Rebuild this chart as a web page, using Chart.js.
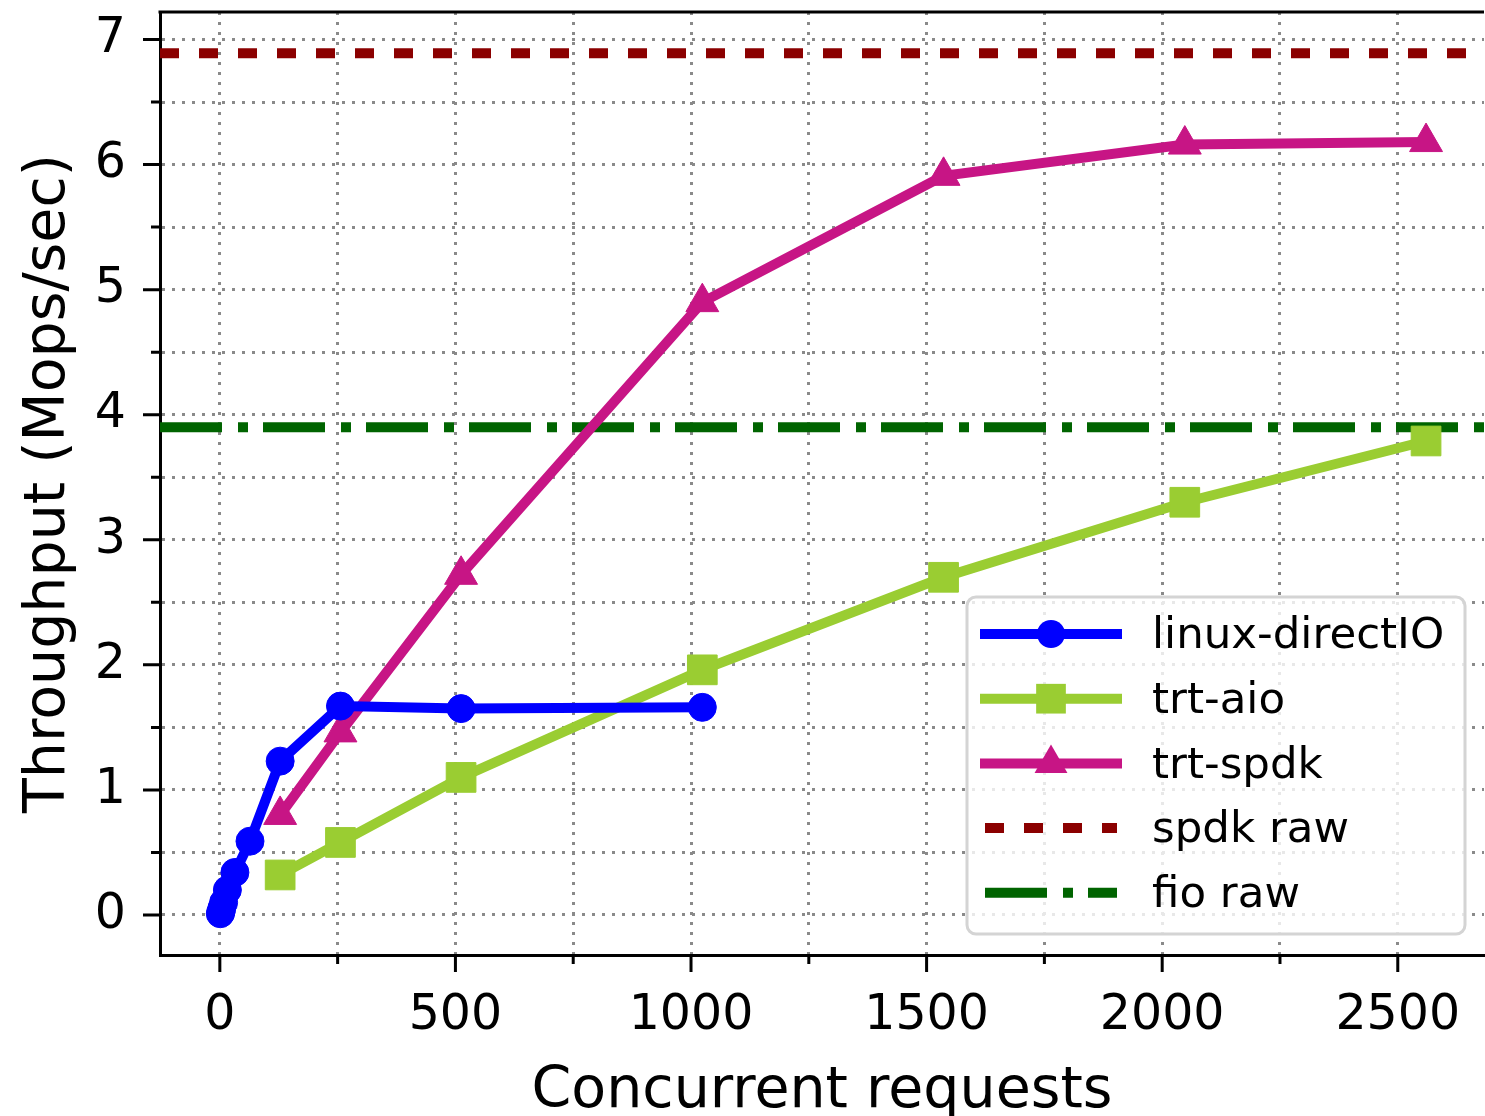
<!DOCTYPE html>
<html>
<head>
<meta charset="utf-8">
<title>Throughput vs concurrent requests</title>
<script src="https://cdn.jsdelivr.net/npm/chart.js@4.4.1/dist/chart.umd.min.js"></script>
<style>
  html, body { margin: 0; padding: 0; background: #fff; }
  #chart-main { display: block; }
</style>
</head>
<body>
<canvas id="chart-main" width="1485" height="1116"></canvas>
<script>
// data
const seriesNames = ['linux-directIO', 'trt-aio', 'trt-spdk', 'spdk raw', 'fio raw'];
const directX = [1, 2, 4, 8, 16, 32, 64, 128, 256, 512, 1024];
const directY = [0.01, 0.02, 0.05, 0.1, 0.2, 0.34, 0.59, 1.23, 1.67, 1.65, 1.66];
const trtX = [128, 256, 512, 1024, 1536, 2048, 2560];
const aioY = [0.32, 0.58, 1.1, 1.96, 2.7, 3.3, 3.79];
const spdkY = [0.8, 1.46, 2.72, 4.9, 5.91, 6.16, 6.18];
const spdkRaw = 6.89;
const fioRaw = 3.9;

// axes
const xMin = -127, xMax = 2683;
const yMin = -0.32, yMax = 7.22;
const xTicks = [0, 250, 500, 750, 1000, 1250, 1500, 1750, 2000, 2250, 2500];
const yTicks = [0, 0.5, 1, 1.5, 2, 2.5, 3, 3.5, 4, 4.5, 5, 5.5, 6, 6.5, 7];

const FONT = "'DejaVu Sans', 'Noto Sans', sans-serif";
const colors = ['#0000ff', '#9acd32', '#c71585', '#8b0000', '#006400'];
const styles = ['circle', 'rect', 'triangle'];
const radii = [14, 21, 19];
const dashes = [[], [], [], [19, 20], [62, 16, 10, 15]];

function pts(xs, ys) {
  return xs.map((x, i) => ({x: x, y: ys[i]}));
}
function flat(v) {
  return [{x: xMin, y: v}, {x: xMax, y: v}];
}

function lineSet(i, data) {
  return {
    label: seriesNames[i],
    data: data,
    borderColor: colors[i],
    backgroundColor: colors[i],
    borderWidth: 10,
    borderDash: dashes[i],
    pointStyle: styles[i] || false,
    pointRadius: radii[i] || 0,
    pointBorderWidth: 1,
    pointBorderColor: colors[i],
    pointBackgroundColor: colors[i],
    tension: 0,
    fill: false
  };
}

// no extra room for edge labels, the plot box is pinned
function noPad(s) {
  s.paddingTop = 0;
  s.paddingBottom = 0;
  s.paddingLeft = 0;
  s.paddingRight = 0;
}

// legend box in the lower right of the plot
const boxLegend = {
  id: 'boxLegend',
  afterDatasetsDraw(chart) {
    const ctx = chart.ctx;
    const a = chart.chartArea;
    const w = 498, h = 337;
    const left = a.right - 19 - w;
    const top = a.bottom - 21 - h;
    ctx.save();
    ctx.beginPath();
    ctx.roundRect(left, top, w, h, 9);
    ctx.fillStyle = 'rgba(255,255,255,0.8)';
    ctx.fill();
    ctx.lineWidth = 3;
    ctx.strokeStyle = '#d4d4d4';
    ctx.stroke();

    for (let i = 0; i < seriesNames.length; i++) {
      const y = top + 37 + i * 64.7;
      ctx.strokeStyle = colors[i];
      ctx.lineWidth = 10;
      ctx.lineCap = 'butt';
      ctx.setLineDash(dashes[i]);
      ctx.beginPath();
      if (dashes[i].length) {
        ctx.moveTo(left + 18, y);
        ctx.lineTo(left + 150, y);
      } else {
        ctx.moveTo(left + 13, y);
        ctx.lineTo(left + 155, y);
      }
      ctx.stroke();
      ctx.setLineDash([]);

      // marker
      const mx = left + 84;
      ctx.fillStyle = colors[i];
      ctx.beginPath();
      if (styles[i] === 'circle') {
        ctx.arc(mx, y, radii[i], 0, Math.PI * 2);
      } else if (styles[i] === 'rect') {
        const s = radii[i] * Math.SQRT1_2;
        ctx.rect(mx - s, y - s, 2 * s, 2 * s);
      } else if (styles[i] === 'triangle') {
        const r = radii[i];
        ctx.moveTo(mx, y - r);
        ctx.lineTo(mx + r * Math.sin(Math.PI * 2 / 3), y + r / 2);
        ctx.lineTo(mx - r * Math.sin(Math.PI * 2 / 3), y + r / 2);
        ctx.closePath();
      }
      ctx.fill();

      ctx.fillStyle = '#000';
      ctx.font = '43.5px ' + FONT;
      ctx.textBaseline = 'middle';
      ctx.textAlign = 'left';
      ctx.fillText(seriesNames[i], left + 185, y + 3);
    }
    ctx.restore();
  }
};

// top frame line and outward tick marks (major long, minor short)
const frameTicks = {
  id: 'frameTicks',
  afterDraw(chart) {
    const ctx = chart.ctx;
    const a = chart.chartArea;
    const xs = chart.scales.x, ys = chart.scales.y;
    ctx.save();
    ctx.strokeStyle = '#000';
    ctx.lineWidth = 3;
    ctx.beginPath();
    ctx.moveTo(a.left - 1.5, a.top);
    ctx.lineTo(a.right, a.top);
    ctx.stroke();

    ctx.beginPath();
    xTicks.forEach(v => {
      const p = xs.getPixelForValue(v);
      const len = v % 500 === 0 ? 17 : 9;
      ctx.moveTo(p, a.bottom);
      ctx.lineTo(p, a.bottom + len);
    });
    yTicks.forEach(v => {
      const p = ys.getPixelForValue(v);
      const len = v % 1 === 0 ? 17 : 9;
      ctx.moveTo(a.left, p);
      ctx.lineTo(a.left - len, p);
    });
    ctx.stroke();
    ctx.restore();
  }
};

const gridOpts = {
  color: '#8a8a8a',
  lineWidth: 3,
  drawTicks: false
};

let chart = new Chart(document.getElementById('chart-main'), {
  type: 'line',
  data: {
    datasets: [
      lineSet(0, pts(directX, directY)),
      lineSet(1, pts(trtX, aioY)),
      lineSet(2, pts(trtX, spdkY)),
      lineSet(3, flat(spdkRaw)),
      lineSet(4, flat(fioRaw))
    ]
  },
  options: {
    responsive: false,
    animation: false,
    layout: {autoPadding: false, padding: {top: 12, right: 1, left: 0, bottom: 0}},
    plugins: {
      legend: {display: false},
      tooltip: {enabled: false}
    },
    scales: {
      x: {
        type: 'linear',
        min: xMin,
        max: xMax,
        afterBuildTicks: s => { s.ticks = xTicks.map(v => ({value: v})); },
        afterFit: s => { s.height = 161; noPad(s); },
        grid: gridOpts,
        border: {display: true, color: '#000', width: 3, dash: [3, 7]},
        ticks: {
          autoSkip: false,
          maxRotation: 0,
          padding: 32,
          color: '#000',
          font: {family: FONT, size: 49},
          callback: v => (v % 500 === 0 ? String(v) : '')
        },
        title: {
          display: true,
          text: 'Concurrent requests',
          color: '#000',
          font: {family: FONT, size: 57, lineHeight: 0.85},
          padding: {top: 0, bottom: 0}
        }
      },
      y: {
        type: 'linear',
        min: yMin,
        max: yMax,
        afterBuildTicks: s => { s.ticks = yTicks.map(v => ({value: v})); },
        afterFit: s => { s.width = 160; noPad(s); },
        grid: gridOpts,
        border: {display: true, color: '#000', width: 3, dash: [3, 7]},
        ticks: {
          autoSkip: false,
          padding: 34,
          color: '#000',
          font: {family: FONT, size: 49},
          callback: v => (v % 1 === 0 ? String(v) : '')
        },
        title: {
          display: true,
          text: 'Throughput (Mops/sec)',
          color: '#000',
          font: {family: FONT, size: 57, lineHeight: 1},
          padding: {top: 21, bottom: 0}
        }
      }
    }
  },
  plugins: [boxLegend, frameTicks]
});
</script>
</body>
</html>
